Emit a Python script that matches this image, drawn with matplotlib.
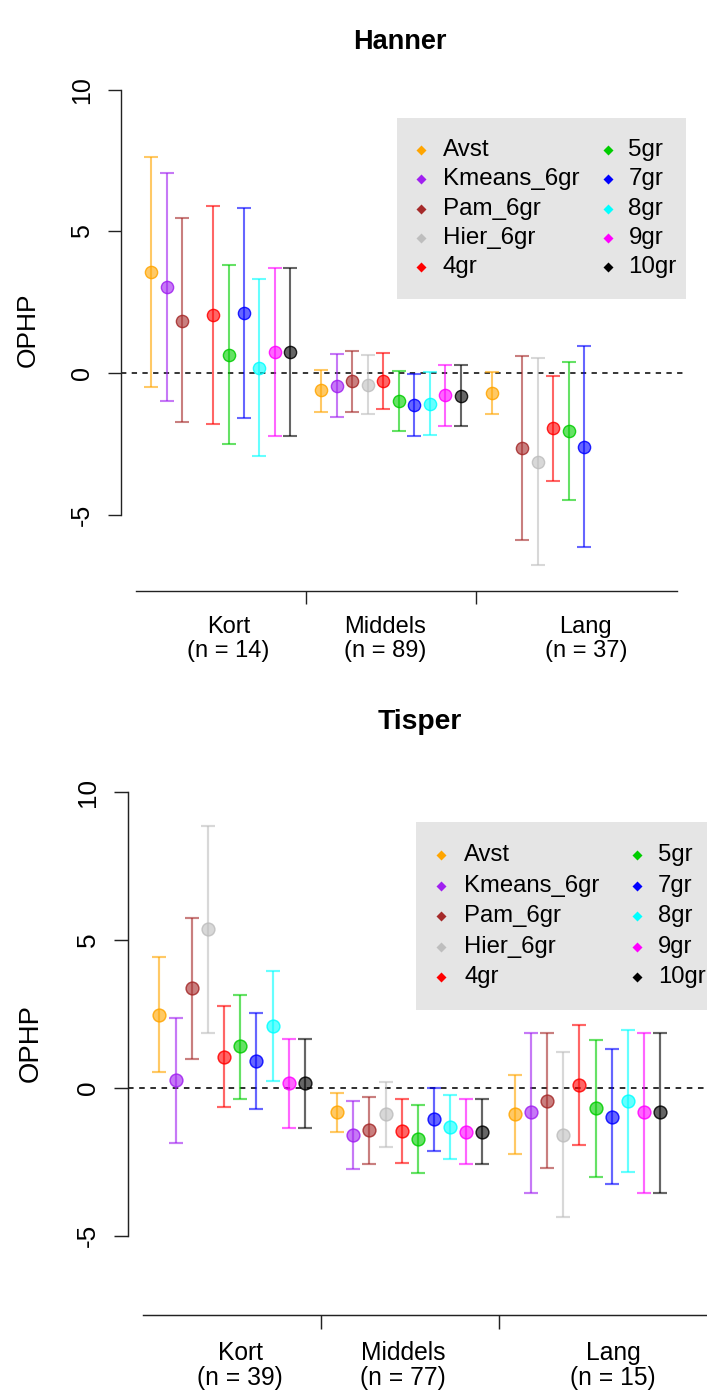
import numpy as np
import matplotlib
matplotlib.use("Agg")
import matplotlib.pyplot as plt
from matplotlib.colors import to_rgba
from matplotlib.patches import Rectangle

plt.rcParams['font.family'] = ['Liberation Sans', 'DejaVu Sans']

# ---------------- data ----------------
series = ["Avst", "Kmeans_6gr", "Pam_6gr", "Hier_6gr", "4gr",
          "5gr", "7gr", "8gr", "9gr", "10gr"]
colors = ["#FFA500", "#A020F0", "#A52A2A", "#BEBEBE", "#FF0000",
          "#00CD00", "#0000FF", "#00FFFF", "#FF00FF", "#000000"]
groups = ["Kort", "Middels", "Lang"]

hanner_n = [14, 89, 37]
tisper_n = [39, 77, 15]

nan = np.nan
# per series: values for [Kort, Middels, Lang]
hanner_mean = [[3.55, -0.61, -0.72], [3.02, -0.45, nan], [1.85, -0.28, -2.64],
               [nan, -0.41, -3.13], [2.03, -0.29, -1.95], [0.65, -0.99, -2.04],
               [2.11, -1.14, -2.60], [0.19, -1.09, nan], [0.75, -0.79, nan],
               [0.75, -0.80, nan]]
hanner_lo = [[-0.49, -1.37, -1.46], [-1.00, -1.57, nan], [-1.73, -1.38, -5.89],
             [nan, -1.46, -6.79], [-1.79, -1.28, -3.80], [-2.52, -2.06, -4.49],
             [-1.60, -2.24, -6.15], [-2.93, -2.19, nan], [-2.22, -1.87, nan],
             [-2.22, -1.87, nan]]
hanner_hi = [[7.61, 0.12, 0.04], [7.05, 0.68, nan], [5.46, 0.79, 0.61],
             [nan, 0.62, 0.54], [5.88, 0.69, -0.09], [3.81, 0.06, 0.40],
             [5.82, -0.04, 0.96], [3.32, 0.04, nan], [3.72, 0.28, nan],
             [3.72, 0.27, nan]]

tisper_mean = [[2.47, -0.83, -0.88], [0.25, -1.59, -0.83], [3.36, -1.44, -0.44],
               [5.36, -0.90, -1.58], [1.05, -1.46, 0.10], [1.41, -1.73, -0.69],
               [0.91, -1.06, -0.97], [2.08, -1.32, -0.44], [0.15, -1.49, -0.83],
               [0.15, -1.49, -0.83]]
tisper_lo = [[0.52, -1.50, -2.22], [-1.85, -2.75, -3.54], [0.97, -2.56, -2.72],
             [1.87, -2.00, -4.36], [-0.66, -2.53, -1.93], [-0.36, -2.89, -3.00],
             [-0.72, -2.13, -3.25], [0.24, -2.39, -2.84], [-1.37, -2.59, -3.54],
             [-1.37, -2.59, -3.54]]
tisper_hi = [[4.44, -0.18, 0.45], [2.35, -0.45, 1.86], [5.73, -0.32, 1.84],
             [8.85, 0.21, 1.22], [2.76, -0.38, 2.13], [3.15, -0.59, 1.61],
             [2.54, 0.01, 1.32], [3.96, -0.25, 1.96], [1.64, -0.36, 1.86],
             [1.64, -0.36, 1.86]]

yticks = [-5, 0, 5, 10]

# ---------------- layout ----------------
W, H = 707, 1394
fig = plt.figure(figsize=(W / 100, H / 100), dpi=100)


def px_axes(left, top, right, bottom):
    return fig.add_axes([left / W, 1 - bottom / H, (right - left) / W, (bottom - top) / H])


ax1 = px_axes(121, 70.4, 686, 590.6)
ax2 = px_axes(128, 772, 717.8, 1315)

XLIM = (-1.95, 34.57)
YLIM = (-7.68, 10.68)
STEP = 11          # slots per group (10 series + gap)
PT = 0.72          # points per pixel at 100 dpi


def draw(ax, mean, lo, hi, ns, title, s, title_xy, ylab_xy, leg_fs):
    ax.set_xlim(*XLIM)
    ax.set_ylim(*YLIM)
    for sp in ("top", "right"):
        ax.spines[sp].set_visible(False)
    for sp in ("left", "bottom"):
        ax.spines[sp].set_linewidth(1.0 * s)
        ax.spines[sp].set_color("#222222")
    ax.spines["left"].set_bounds(yticks[0], yticks[-1])
    ax.spines["bottom"].set_bounds(-1, 3 * STEP + 1)
    ax.set_yticks(yticks)
    ax.set_yticklabels([str(v) for v in yticks])
    ax.set_xticks([STEP - 1, 2 * STEP - 1])
    ax.set_xticklabels([])
    ax.tick_params(length=13 * PT * s, width=1.0 * s, color="#222222", direction="out")
    ax.tick_params(axis="y", labelsize=18 * s, pad=10 * s, labelrotation=90)
    for lab in ax.get_yticklabels():
        lab.set_va("center")
    ax.patch.set_alpha(0)

    ax.axhline(0, color="black", lw=1.1 * s, ls=(0, (3.5, 3.5)), zorder=1)

    for k, (name, col) in enumerate(zip(series, colors)):
        xs, ms, lows, highs = [], [], [], []
        for g in range(len(groups)):
            if np.isnan(mean[k][g]):
                continue
            xs.append(g * STEP + k)
            ms.append(mean[k][g])
            lows.append(mean[k][g] - lo[k][g])
            highs.append(hi[k][g] - mean[k][g])
        ax.errorbar(xs, ms, yerr=[lows, highs], fmt="none",
                    ecolor=to_rgba(col, 0.6), elinewidth=1.5 * s,
                    capsize=5 * s, capthick=1.5 * s, zorder=2)
        ax.plot(xs, ms, "o", ms=8.8 * s, mfc=to_rgba(col, 0.6),
                mec=to_rgba(col, 0.85), mew=1.0 * s, zorder=3)

    # group labels
    label_x = [5.0, 15.1, 28.1]
    for g, name in enumerate(groups):
        ax.annotate(name, xy=(label_x[g], YLIM[0]), xycoords="data",
                    xytext=(0, -36 * PT * s), textcoords="offset points",
                    ha="center", va="center", fontsize=17 * s, annotation_clip=False)
        ax.annotate(f"(n = {ns[g]})", xy=(label_x[g], YLIM[0]), xycoords="data",
                    xytext=(0, -60 * PT * s), textcoords="offset points",
                    ha="center", va="center", fontsize=17 * s, annotation_clip=False)

    # legend (R style, grey box, two columns)
    ax.add_patch(Rectangle((15.9, 2.62), 34.6 - 15.9, 9.0 - 2.62,
                           facecolor="#E5E5E5", edgecolor="none", zorder=0.5))
    for k, (name, col) in enumerate(zip(series, colors)):
        c, r = divmod(k, 5)
        yy = 7.86 - 1.03 * r
        mx = 17.43 if c == 0 else 29.55
        tx = 18.86 if c == 0 else 30.85
        ax.plot([mx], [yy], "D", ms=5.2 * s, color=col, mec="none", zorder=4)
        ax.text(tx, yy, name, ha="left", va="center", fontsize=leg_fs, zorder=4)

    fig.text(title_xy[0] / W, 1 - title_xy[1] / H, title, ha="center", va="center",
             fontsize=19.5 * s, fontweight="bold")
    fig.text(ylab_xy[0] / W, 1 - ylab_xy[1] / H, "OPHP", ha="center", va="center",
             rotation=90, fontsize=19 * s)


draw(ax1, hanner_mean, hanner_lo, hanner_hi, hanner_n, "Hanner", 1.0, (400, 42), (28, 330), 17.4)
draw(ax2, tisper_mean, tisper_lo, tisper_hi, tisper_n, "Tisper", 1.045, (420, 722), (31, 1043), 17.2)

fig.savefig("out.png", dpi=100)
